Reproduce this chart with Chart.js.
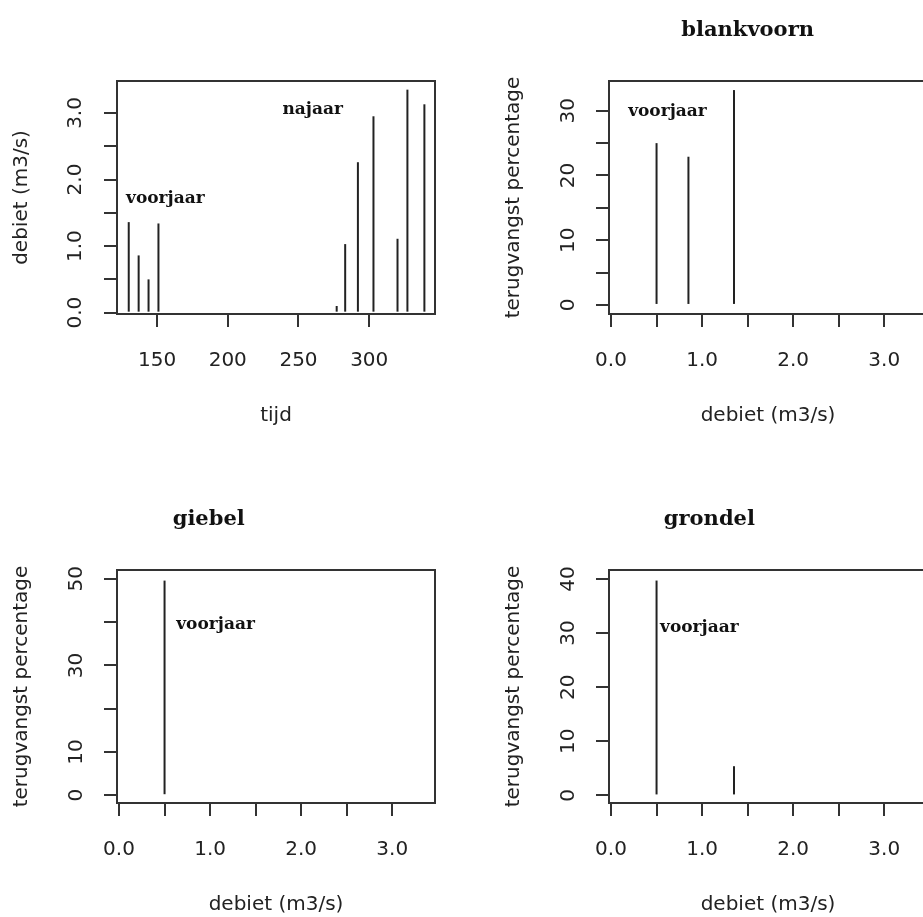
<!DOCTYPE html>
<html>
<head>
<meta charset="utf-8">
<script src="https://cdn.jsdelivr.net/npm/chart.js@4.4.1/dist/chart.umd.min.js"></script>
<style>
  html, body { margin: 0; padding: 0; background: #fff; overflow: hidden; width: 923px; height: 917px; }
  canvas { position: absolute; }
</style>
</head>
<body>
<canvas id="tl" width="460" height="489" style="left:0;top:0"></canvas>
<canvas id="tr" width="460" height="489" style="left:492px;top:0"></canvas>
<canvas id="bl" width="460" height="489" style="left:0;top:489px"></canvas>
<canvas id="br" width="460" height="489" style="left:492px;top:489px"></canvas>
<script>
try {

// debiet over tijd (top left)
const tijd = [130, 137, 144, 151, 277, 283, 292, 303, 320, 327, 339];
const debiet = [1.36, 0.86, 0.50, 1.34, 0.10, 1.03, 2.26, 2.95, 1.11, 3.35, 3.13];

// terugvangst percentage vs debiet
const blankvoornDebiet = [0.50, 0.85, 1.35];
const blankvoornPct = [25, 22.9, 33.2];
const giebelDebiet = [0.50];
const giebelPct = [49.6];
const grondelDebiet = [0.50, 1.35];
const grondelPct = [39.7, 5.4];

// ticks
const tijdTicks = [150, 200, 250, 300];
const tijdLabels = ['150', '200', '250', '300'];
const debietTicks = [0, 0.5, 1, 1.5, 2, 2.5, 3];
const debietLabels = ['0.0', '', '1.0', '', '2.0', '', '3.0'];
const blankTicks = [0, 5, 10, 15, 20, 25, 30];
const blankLabels = ['0', '', '10', '', '20', '', '30'];
const giebelTicks = [0, 10, 20, 30, 40, 50];
const giebelLabels = ['0', '10', '', '30', '', '50'];
const grondelTicks = [0, 10, 20, 30, 40];
const grondelLabels = ['0', '10', '20', '30', '40'];

const ink = '#222';
const sans = '"DejaVu Sans", sans-serif';
const serif = '"DejaVu Serif", serif';

// box around the plot area, R style
const boxPlugin = {
  id: 'box',
  afterDraw(chart) {
    const a = chart.chartArea, ctx = chart.ctx;
    ctx.save();
    ctx.strokeStyle = '#333';
    ctx.lineWidth = 2;
    ctx.strokeRect(a.left, a.top, a.right - a.left, a.bottom - a.top);
    ctx.restore();
  }
};

// title and in-plot labels, placed in data units
function textPlugin(title, notes) {
  return {
    id: 'notes',
    afterDraw(chart) {
      const ctx = chart.ctx, xs = chart.scales.x, ys = chart.scales.y;
      ctx.save();
      ctx.fillStyle = '#111';
      ctx.textAlign = 'center';
      ctx.textBaseline = 'alphabetic';
      if (title) {
        ctx.font = 'bold 21px ' + serif;
        ctx.fillText(title.text, xs.getPixelForValue(title.x), 36);
      }
      ctx.font = 'bold 17px ' + serif;
      notes.forEach(n => ctx.fillText(n.text, xs.getPixelForValue(n.x), ys.getPixelForValue(n.y)));
      ctx.restore();
    }
  };
}

function panel(id, p) {
  new Chart(document.getElementById(id), {
    type: 'bar',
    data: {
      datasets: [{
        data: p.x.map((x, i) => ({ x: x, y: p.y[i] })),
        backgroundColor: '#222',
        barThickness: 2,
        inflateAmount: 0
      }]
    },
    options: {
      responsive: false,
      animation: false,
      layout: { padding: { top: 81, right: 25, left: 0, bottom: 0 } },
      plugins: { legend: { display: false }, tooltip: { enabled: false } },
      scales: {
        x: {
          type: 'linear', min: p.xmin, max: p.xmax, bounds: 'data', offset: false,
          afterBuildTicks: s => { s.ticks = p.xTicks.map(v => ({ value: v })); },
          afterFit: s => { s.height = 175; },
          grid: { offset: false, drawOnChartArea: false, tickLength: 13, color: '#333', lineWidth: 2 },
          border: { display: false },
          ticks: { autoSkip: false, maxRotation: 0, padding: 22, color: ink, font: { family: sans, size: 20 },
                   callback: (v, i) => p.xLabels[i] },
          title: { display: true, text: p.xTitle, color: ink, font: { family: sans, size: 20 }, padding: { bottom: 61 } }
        },
        y: {
          type: 'linear', min: p.ymin, max: p.ymax, bounds: 'data',
          afterBuildTicks: s => { s.ticks = p.yTicks.map(v => ({ value: v })); },
          afterFit: s => { s.width = 117; },
          grid: { drawOnChartArea: false, tickLength: 13, color: '#333', lineWidth: 2 },
          border: { display: false },
          ticks: { autoSkip: false, minRotation: 90, maxRotation: 90, crossAlign: 'center', padding: p.yPad,
                   color: ink, font: { family: sans, size: 20 }, callback: (v, i) => p.yLabels[i] },
          title: { display: true, text: p.yTitle, color: ink, font: { family: sans, size: 20 }, padding: { top: 10 } }
        }
      }
    },
    plugins: [boxPlugin, textPlugin(p.title, p.notes)]
  });
}

panel('tl', {
  x: tijd, y: debiet, xmin: 121.7, xmax: 346.5, ymin: -0.02, ymax: 3.48,
  xTicks: tijdTicks, xLabels: tijdLabels, yTicks: debietTicks, yLabels: debietLabels, yPad: 12,
  xTitle: 'tijd', yTitle: 'debiet (m3/s)', title: null,
  notes: [{ text: 'voorjaar', x: 155.9, y: 1.65 }, { text: 'najaar', x: 260, y: 2.99 }]
});

panel('tr', {
  x: blankvoornDebiet, y: blankvoornPct, xmin: -0.022, xmax: 3.469, ymin: -1.4, ymax: 34.6,
  xTicks: debietTicks, xLabels: debietLabels, yTicks: blankTicks, yLabels: blankLabels, yPad: 14,
  xTitle: 'debiet (m3/s)', yTitle: 'terugvangst percentage', title: { text: 'blankvoorn', x: 1.5 },
  notes: [{ text: 'voorjaar', x: 0.62, y: 29.2 }]
});

panel('bl', {
  x: giebelDebiet, y: giebelPct, xmin: -0.022, xmax: 3.469, ymin: -1.8, ymax: 52.05,
  xTicks: debietTicks, xLabels: debietLabels, yTicks: giebelTicks, yLabels: giebelLabels, yPad: 14,
  xTitle: 'debiet (m3/s)', yTitle: 'terugvangst percentage', title: { text: 'giebel', x: 0.985 },
  notes: [{ text: 'voorjaar', x: 1.06, y: 38.5 }]
});

panel('br', {
  x: grondelDebiet, y: grondelPct, xmin: -0.022, xmax: 3.469, ymin: -1.4, ymax: 41.65,
  xTicks: debietTicks, xLabels: debietLabels, yTicks: grondelTicks, yLabels: grondelLabels, yPad: 14,
  xTitle: 'debiet (m3/s)', yTitle: 'terugvangst percentage', title: { text: 'grondel', x: 1.08 },
  notes: [{ text: 'voorjaar', x: 0.97, y: 30.2 }]
});

} catch (err) {
  console.error(err);
}
</script>
</body>
</html>
